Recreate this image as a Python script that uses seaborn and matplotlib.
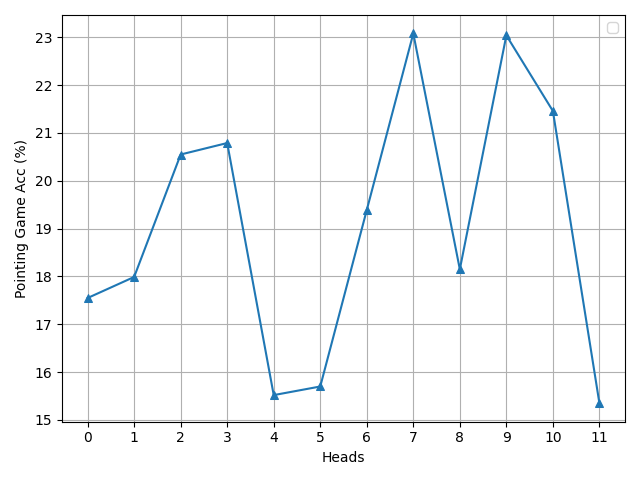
import matplotlib
matplotlib.use("Agg")
import matplotlib.pyplot as plt
import seaborn as sns
import pandas as pd

heads = list(range(12))
acc = [17.55, 17.99, 20.55, 20.79, 15.52, 15.70, 19.39, 23.08, 18.15, 23.04, 21.46, 15.35]

df = pd.DataFrame({"Heads": heads, "Acc": acc})

fig, ax = plt.subplots(figsize=(6.4, 4.8), dpi=100)
sns.lineplot(data=df, x="Heads", y="Acc", marker="^", markersize=6,
             markeredgecolor="#1f77b4", color="#1f77b4", linewidth=1.5, ax=ax)
ax.set_xticks(heads)
ax.set_xlabel("Heads")
ax.set_ylabel("Pointing Game Acc (%)")
ax.grid(True)
ax.legend()
fig.tight_layout()
fig.savefig("out.png")
